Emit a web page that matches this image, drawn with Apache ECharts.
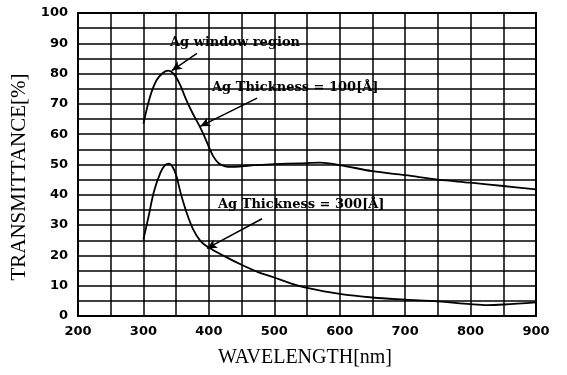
<!DOCTYPE html>
<html>
<head>
<meta charset="utf-8">
<script src="https://cdn.jsdelivr.net/npm/echarts@6/dist/echarts.min.js"></script>
<style>html,body{margin:0;padding:0;background:#fff;}#c{width:567px;height:375px;}</style>
</head>
<body>
<div id="c"></div>
<script>
// wavelength [nm], transmittance [%]
var thick100 = [[300,63.5],[310,72.3],[320,77.8],[330,80.3],[338,81],[346,80],[355,76.8],[365,71.6],[375,67],[385,63],[393,59.4],[400,55.8],[407,52.6],[415,50.4],[425,49.4],[435,49.2],[450,49.4],[470,49.8],[500,50.1],[540,50.4],[570,50.6],[600,49.8],[650,47.8],[700,46.5],[750,45],[800,44],[850,42.9],[900,41.8]];
var thick300 = [[300,25.3],[308,33],[316,41],[326,47.3],[333,49.8],[339,50.3],[344,49.4],[350,46.5],[357,40.5],[366,34.1],[376,28.6],[387,24.8],[400,22.6],[425,19.6],[450,16.9],[475,14.5],[500,12.7],[525,10.8],[550,9.3],[600,7.3],[650,6.1],[700,5.4],[750,4.8],[800,3.9],[826,3.6],[851,3.8],[900,4.5]];
var xTicks = [200,300,400,500,600,700,800,900];
var yTicks = [0,10,20,30,40,50,60,70,80,90,100];
var labelWindow = 'Ag window region';
var label100 = 'Ag Thickness = 100[Å]';
var label300 = 'Ag Thickness = 300[Å]';
var arrowWindow = [[381.8,86.7],[343.5,81.0]];
var arrow100 = [[473.7,71.9],[386.8,62.6]];
var arrow300 = [[481.3,32.1],[397.1,22.3]];

var chart = echarts.init(document.getElementById('c'), null, {renderer:'canvas'});
var tickFont = {color:'#000', fontFamily:'DejaVu Sans', fontWeight:'bold', fontSize:13};
function arrowLine(a){
  return {
    silent:true, symbol:['none','arrow'], symbolSize:[7,10],
    lineStyle:{color:'#000', width:1.5, type:'solid'}, label:{show:false},
    data:[[{coord:a[0]},{coord:a[1]}]]
  };
}
chart.setOption({
  animation:false,
  backgroundColor:'#fff',
  grid:{left:78, right:31, top:13, bottom:59, show:true, borderColor:'#000', borderWidth:2, backgroundColor:'transparent'},
  xAxis:{type:'value', min:200, max:900, interval:50,
    axisLine:{show:true, lineStyle:{color:'#000', width:2}},
    axisTick:{show:false},
    splitLine:{show:true, lineStyle:{color:'#000', width:1.5}},
    axisLabel:Object.assign({margin:9, formatter:function(v){return xTicks.indexOf(v)>=0 ? String(v) : '';}}, tickFont)
  },
  yAxis:{type:'value', min:0, max:100, interval:5,
    axisLine:{show:true, lineStyle:{color:'#000', width:2}},
    axisTick:{show:false},
    splitLine:{show:true, lineStyle:{color:'#000', width:1.5}},
    axisLabel:Object.assign({margin:10, formatter:function(v){return yTicks.indexOf(v)>=0 ? String(v) : '';}}, tickFont)
  },
  series:[
    {type:'line', data:thick100, smooth:0.35, showSymbol:false, lineStyle:{color:'#000', width:1.8}, markLine:arrowLine(arrow100)},
    {type:'line', data:thick300, smooth:0.35, showSymbol:false, lineStyle:{color:'#000', width:1.8}, markLine:arrowLine(arrow300)},
    {type:'line', data:[], markLine:arrowLine(arrowWindow)}
  ],
  graphic:[
    {type:'text', left:170, top:36, style:{text:labelWindow, font:'bold 13px "DejaVu Serif"', fill:'#000'}},
    {type:'text', left:212, top:81, style:{text:label100, font:'bold 13px "DejaVu Serif"', fill:'#000'}},
    {type:'text', left:218, top:198, style:{text:label300, font:'bold 13px "DejaVu Serif"', fill:'#000'}},
    {type:'text', x:305, y:358, style:{text:'WAVELENGTH[nm]', font:'20px "Liberation Serif"', fill:'#000', align:'center', verticalAlign:'middle'}},
    {type:'text', x:19, y:177, rotation:Math.PI/2, style:{text:'TRANSMITTANCE[%]', font:'21px "Liberation Serif"', fill:'#000', align:'center', verticalAlign:'middle'}}
  ]
});
</script>
</body>
</html>
